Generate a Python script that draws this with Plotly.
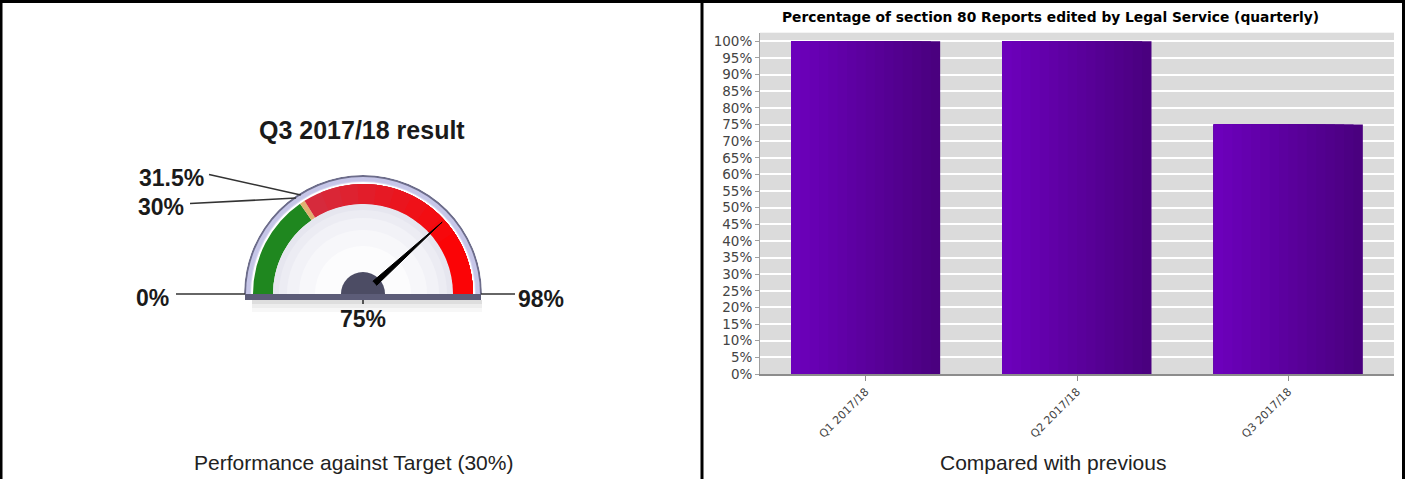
import math
import plotly.graph_objects as go

# ---------------- data ----------------
gauge_title = "Q3 2017/18 result"
gauge_min = 0
gauge_max = 98
gauge_value = 75
band_edges = [0, 30, 31.5, 98]
band_colors = ["#1f871f", "#e0b070", "#d62a3c"]
gauge_caption = "Performance against Target (30%)"

quarters = ["Q1 2017/18", "Q2 2017/18", "Q3 2017/18"]
pct_values = [100, 100, 75]
bar_title = "Percentage of section 80 Reports edited by Legal Service (quarterly)"
bar_caption = "Compared with previous"

# ---------------- layout helpers ----------------
W, H = 1405, 479


def px(x):
    return x / W


def py(y):
    return 1 - y / H


def th(v):
    return (v - gauge_min) / (gauge_max - gauge_min) * 180.0


def mix(c0, c1, f):
    return "rgb(%d,%d,%d)" % tuple(round(a + (b - a) * f) for a, b in zip(c0, c1))


cx, cy, R = 363, 294, 119          # gauge centre / outer radius in pixels
band_in, band_out = 90, 110

fig = go.Figure()

# ---------------- gauge (polar) ----------------
def half_disc(r, color, base=0):
    return go.Barpolar(r=[r], theta=[90], width=[180], base=base,
                       marker=dict(color=color, line=dict(width=0)),
                       hoverinfo="skip", showlegend=False, subplot="polar")


def band(e0, e1, color):
    return go.Barpolar(r=[band_out - band_in], base=band_in,
                       theta=[th((e0 + e1) / 2)], width=[th(e1) - th(e0)],
                       marker=dict(color=color, line=dict(width=0)),
                       hoverinfo="skip", showlegend=False, subplot="polar")


fig.add_trace(half_disc(R, "#6c6c8a"))
fig.add_trace(half_disc(R - 2, "#c6c6e8"))
fig.add_trace(half_disc(R - 6, "#d6d6f0"))
fig.add_trace(half_disc(band_out + 2, "#ffffff"))
for e0, e1, col in zip(band_edges[:-1], band_edges[1:], band_colors):
    fig.add_trace(band(e0, e1, col))
# red zone shading: crimson near target fading to bright red at the top end
crimson, bright = (0xd6, 0x2a, 0x3c), (0xff, 0x00, 0x00)
n_red = 10
for k in range(1, n_red):
    f = k / n_red
    start = band_edges[2] + (band_edges[3] - band_edges[2]) * f * 0.8
    fig.add_trace(band(start, band_edges[3], mix(crimson, bright, f)))

# face with soft radial shading
for rr, col in [(band_in, "#e6e6ef"), (band_in - 6, "#ececf3"), (band_in - 14, "#f2f2f7"),
                (band_in - 26, "#f7f7fa"), (band_in - 42, "#fcfcfd")]:
    fig.add_trace(half_disc(rr, col))

# needle
t = th(gauge_value)
fig.add_trace(go.Scatterpolar(r=[16, 107, 16], theta=[t - 10, t, t + 10], mode="lines",
                              fill="toself", fillcolor="#000000",
                              line=dict(color="#000000", width=1),
                              hoverinfo="skip", showlegend=False, subplot="polar"))
# hub
fig.add_trace(half_disc(22, "#4c4c64"))

fig.update_layout(polar=dict(
    domain=dict(x=[px(cx - R), px(cx + R)], y=[py(cy), py(cy - R)]),
    sector=[0, 180], bgcolor="rgba(0,0,0,0)", barmode="overlay",
    radialaxis=dict(range=[0, R], visible=False),
    angularaxis=dict(rotation=180, direction="clockwise", visible=False),
))

# ---------------- bar chart ----------------
full_w = 0.705
n_layers = 16
dark = (0x4a, 0x00, 0x7f)
light = (0x6c, 0x00, 0xbb)
for k in range(n_layers):
    f = k / (n_layers - 1)
    fig.add_trace(go.Bar(x=quarters, y=pct_values, width=full_w * (1 - k / n_layers),
                         offset=-full_w / 2, marker=dict(color=mix(dark, light, f), line=dict(width=0)),
                         hoverinfo="skip", showlegend=False))

fig.update_layout(
    barmode="overlay",
    plot_bgcolor="#dbdbdb",
    xaxis=dict(domain=[px(760), px(1394)], range=[-0.5, 2.5], type="category",
               showline=True, linecolor="#8c8c8c", linewidth=2,
               ticks="outside", ticklen=5, tickcolor="#8c8c8c", tickangle=-45,
               tickfont=dict(family="DejaVu Sans", size=11, color="#444444"),
               showgrid=False, fixedrange=True),
    yaxis=dict(domain=[py(374), py(32.7)], range=[0, 102.6], dtick=5, tick0=0,
               ticksuffix="%", showline=True, linecolor="#a0a0a0", linewidth=1,
               ticks="outside", ticklen=4, tickcolor="#a0a0a0",
               gridcolor="#ffffff", gridwidth=2, zeroline=False,
               tickfont=dict(family="DejaVu Sans", size=13.5, color="#444444"),
               fixedrange=True),
)

# ---------------- decorations ----------------
shapes = []
# gauge base strip and shadow
for y0, y1, c in [(300, 304, "rgba(0,0,0,0.13)"), (304, 308, "rgba(0,0,0,0.07)"),
                  (308, 312, "rgba(0,0,0,0.03)")]:
    shapes.append(dict(type="rect", xref="paper", yref="paper", x0=px(252), x1=px(482),
                       y0=py(y1), y1=py(y0), fillcolor=c, line=dict(width=0), layer="below"))
shapes.append(dict(type="rect", xref="paper", yref="paper", x0=px(cx - R + 1), x1=px(cx + R - 1),
                   y0=py(300), y1=py(294), fillcolor="#5c5c78", line=dict(width=0), layer="above"))
# table borders
for x0, y0, x1, y1, wdt in [(0, 1.5, W, 1.5, 3), (1, 0, 1, H, 3), (702, 0, 702, H, 3),
                            (W - 1.5, 0, W - 1.5, H, 3)]:
    shapes.append(dict(type="line", xref="paper", yref="paper", x0=px(x0), y0=py(y0),
                       x1=px(x1), y1=py(y1), line=dict(color="#000000", width=wdt)))


def tip(v, r):
    a = math.radians(180 - th(v))
    return cx + r * math.cos(a), cy - r * math.sin(a)


def leader(x0, y0, x1, y1):
    shapes.append(dict(type="line", xref="paper", yref="paper", x0=px(x0), y0=py(y0),
                       x1=px(x1), y1=py(y1), line=dict(color="#333333", width=1.6)))


leader(176, 294, cx - R + 1, 294)
leader(cx + R - 1, 294, 515, 294)
x30, y30 = tip(band_edges[1], 117)
leader(190, 203.5, x30, y30)
x31, y31 = tip(band_edges[2], 117)
leader(209, 174.5, x31, y31)
leader(cx, 300, cx, 304)

lab_font = dict(family="Liberation Sans", size=23, color="#1a1a1a", weight="bold")


def label(text, x, y, xanchor="center", font=lab_font):
    return dict(text=text, xref="paper", yref="paper", x=px(x), y=py(y),
                xanchor=xanchor, yanchor="middle", showarrow=False, font=font)


ann = [
    label("%g%%" % gauge_min, 171, 298, "right"),
    label("%g%%" % gauge_max, 516, 299, "left"),
    label("%g%%" % band_edges[1], 186, 207, "right"),
    label("%g%%" % band_edges[2], 206, 178, "right"),
    label("%g%%" % gauge_value, cx, 319),
    label(gauge_title, 362, 130, font=dict(family="Liberation Sans", size=25,
                                             color="#1a1a1a", weight="bold")),
    label(gauge_caption, 353, 462, font=dict(family="Liberation Sans", size=21, color="#222222")),
    label(bar_caption, 1053, 462, font=dict(family="Liberation Sans", size=21, color="#222222")),
    label(bar_title, 1050, 17, font=dict(family="DejaVu Sans", size=13.8,
                                           color="#000000", weight="bold")),
]

fig.update_layout(
    width=W, height=H, margin=dict(l=0, r=0, t=0, b=0),
    paper_bgcolor="#ffffff", template="none", showlegend=False,
    shapes=shapes, annotations=ann,
)

fig.write_html("out.html", config={"displayModeBar": False})
